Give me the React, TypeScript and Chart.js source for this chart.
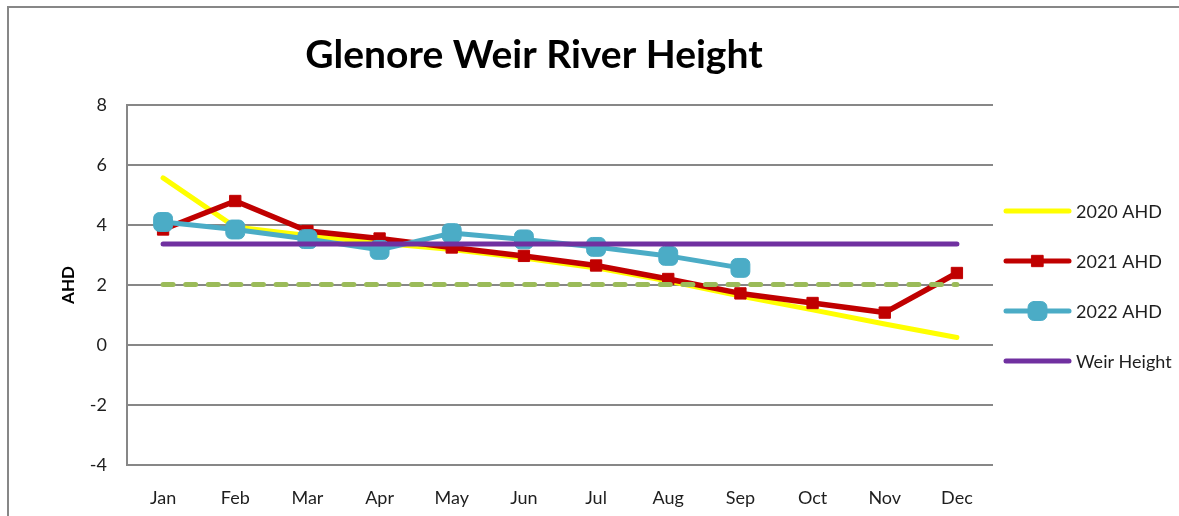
import React, { useEffect, useRef } from "react";
import { Chart, registerables } from "chart.js";

Chart.register(...registerables);

const months = ["Jan", "Feb", "Mar", "Apr", "May", "Jun", "Jul", "Aug", "Sep", "Oct", "Nov", "Dec"];
const ahd2020 = [5.57, 3.93, 3.65, 3.4, 3.18, 2.9, 2.57, 2.13, 1.63, 1.17, 0.7, 0.25];
const ahd2021 = [3.85, 4.8, 3.8, 3.55, 3.25, 2.97, 2.65, 2.2, 1.72, 1.4, 1.08, 2.4];
const ahd2022 = [4.1, 3.85, 3.53, 3.17, 3.73, 3.52, 3.27, 2.97, 2.57, null, null, null];
const weirHeight = [3.37, 3.37, 3.37, 3.37, 3.37, 3.37, 3.37, 3.37, 3.37, 3.37, 3.37, 3.37];
const lowLevel = [2.02, 2.02, 2.02, 2.02, 2.02, 2.02, 2.02, 2.02, 2.02, 2.02, 2.02, 2.02];
const yTicks = { min: -4, max: 8, step: 2 };

const TITLE = "Glenore Weir River Height";
const FONT = "Lato, 'Open Sans', sans-serif";

function drawMarker(ctx: CanvasRenderingContext2D, style: string, r: number, x: number, y: number, color: string) {
  ctx.save();
  ctx.fillStyle = color;
  ctx.strokeStyle = color;
  ctx.lineWidth = 1;
  ctx.beginPath();
  if (style === "rect") {
    const s = r * Math.SQRT1_2;
    ctx.rect(x - s, y - s, 2 * s, 2 * s);
  } else {
    const half = r * 0.858;
    (ctx as any).roundRect(x - half, y - half, 2 * half, 2 * half, r * 0.516);
  }
  ctx.fill();
  ctx.stroke();
  ctx.restore();
}

const decorPlugin = {
  id: "decor",
  beforeDraw(chart: any) {
    const ctx = chart.ctx;
    ctx.save();
    ctx.fillStyle = "#ffffff";
    ctx.fillRect(0, 0, chart.width, chart.height);
    ctx.strokeStyle = "#878787";
    ctx.lineWidth = 2;
    ctx.beginPath();
    ctx.moveTo(8, chart.height);
    ctx.lineTo(8, 7);
    ctx.lineTo(chart.width, 7);
    ctx.stroke();
    ctx.restore();
  },
  afterDraw(chart: any) {
    const ctx = chart.ctx;
    const area = chart.chartArea;
    ctx.save();
    ctx.fillStyle = "#000000";
    ctx.font = `bold 39px ${FONT}`;
    ctx.textAlign = "center";
    ctx.textBaseline = "alphabetic";
    ctx.fillText(TITLE, area.left + (area.right - area.left) * 0.47, 68);
    const items = chart.data.datasets.filter((d: any) => d.label);
    items.sort((a: any, b: any) => a.legendIndex - b.legendIndex);
    const x0 = area.right + 13;
    const x1 = x0 + 63;
    items.forEach((ds: any, i: number) => {
      const y = area.top + 106 + i * 50;
      ctx.strokeStyle = ds.borderColor;
      ctx.lineWidth = 5;
      ctx.lineCap = "round";
      ctx.beginPath();
      ctx.moveTo(x0, y);
      ctx.lineTo(x1, y);
      ctx.stroke();
      if (ds.pointRadius > 0) {
        drawMarker(ctx, ds.pointStyle, ds.pointRadius, (x0 + x1) / 2, y, ds.pointBackgroundColor);
      }
      ctx.fillStyle = "#1e1e1e";
      ctx.font = `18px ${FONT}`;
      ctx.textAlign = "left";
      ctx.textBaseline = "middle";
      ctx.fillText(ds.label, x1 + 7, y + 1);
    });
    ctx.restore();
  },
};

export default function App() {
  const ref = useRef<HTMLCanvasElement | null>(null);
  useEffect(() => {
    if (!ref.current) return;
    const chart = new Chart(ref.current, {
      type: "line",
      data: {
        labels: months,
        datasets: [
          {
            label: "",
            data: lowLevel,
            borderColor: "#9BBB59",
            borderWidth: 5,
            borderDash: [10, 12.6],
            borderCapStyle: "round",
            pointRadius: 0,
            order: 0,
          } as any,
          {
            label: "Weir Height",
            legendIndex: 3,
            data: weirHeight,
            borderColor: "#7030A0",
            borderWidth: 5,
            borderCapStyle: "round",
            pointRadius: 0,
            order: 1,
          } as any,
          {
            label: "2022 AHD",
            legendIndex: 2,
            data: ahd2022,
            borderColor: "#4BACC6",
            borderWidth: 5,
            borderCapStyle: "round",
            borderJoinStyle: "round",
            pointStyle: "rectRounded",
            pointRadius: 11,
            pointBackgroundColor: "#4BACC6",
            pointBorderColor: "#4BACC6",
            pointBorderWidth: 1,
            order: 2,
          } as any,
          {
            label: "2021 AHD",
            legendIndex: 1,
            data: ahd2021,
            borderColor: "#C00000",
            borderWidth: 5.5,
            borderCapStyle: "round",
            borderJoinStyle: "round",
            pointStyle: "rect",
            pointRadius: 8,
            pointBackgroundColor: "#C00000",
            pointBorderColor: "#C00000",
            pointBorderWidth: 1,
            order: 3,
          } as any,
          {
            label: "2020 AHD",
            legendIndex: 0,
            data: ahd2020,
            borderColor: "#FFFF00",
            borderWidth: 5,
            borderCapStyle: "round",
            borderJoinStyle: "round",
            pointRadius: 0,
            order: 4,
          } as any,
        ],
      },
      options: {
        responsive: false,
        animation: false,
        events: [],
        layout: { padding: { left: 8, top: 105, right: 186, bottom: 0 } },
        plugins: {
          legend: { display: false },
          title: { display: false },
          tooltip: { enabled: false },
        },
        scales: {
          x: {
            offset: true,
            grid: { display: false, drawTicks: false },
            border: { display: false },
            ticks: { color: "#1e1e1e", font: { family: FONT, size: 18 }, padding: 22 },
            afterFit(scale: any) { scale.height = 51; },
          },
          y: {
            min: yTicks.min,
            max: yTicks.max,
            ticks: { stepSize: yTicks.step, color: "#1e1e1e", font: { family: FONT, size: 18 }, padding: 20 },
            grid: { color: "#878787", lineWidth: 2, drawTicks: false },
            border: { display: true, color: "#878787", width: 2 },
            title: {
              display: true,
              text: "AHD",
              color: "#000000",
              font: { family: FONT, size: 17, weight: "bold" },
              padding: { top: 50, bottom: 0 },
            },
            afterFit(scale: any) { scale.width = 119; },
          },
        },
      },
      plugins: [decorPlugin],
    } as any);
    return () => chart.destroy();
  }, []);
  return (
    <div style={{ position: "absolute", left: 0, top: 0, width: 1179, height: 516 }}>
      <canvas ref={ref} width={1179} height={516} style={{ width: 1179, height: 516, display: "block" }} />
    </div>
  );
}
